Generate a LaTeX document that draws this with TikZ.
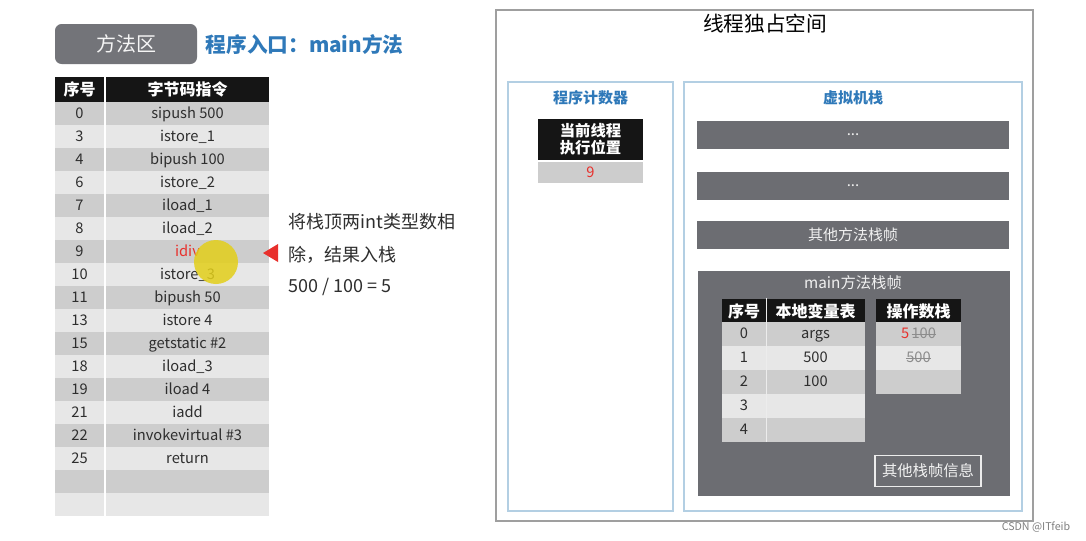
\documentclass[tikz,border=0pt]{standalone}
\usepackage{fontspec}
\setmainfont{Noto Sans CJK SC}
\usepackage{tikz}

\definecolor{fonce}{HTML}{CDCDCD}
\definecolor{clair}{HTML}{E7E7E7}
\definecolor{noir}{HTML}{151515}
\definecolor{gris}{HTML}{6C6D72}
\definecolor{texte}{HTML}{2E2E2E}
\definecolor{bleu}{HTML}{2F79B9}
\definecolor{bleucadre}{HTML}{B3CFE3}
\definecolor{rouge}{HTML}{E8302C}
\definecolor{efface}{HTML}{8C8C8C}
\definecolor{jaune}{HTML}{E3CF1A}

\newcommand\raye[1]{\setbox0\hbox{#1}\rlap{\rule[0.3em]{\wd0}{0.5pt}}\box0}

\begin{document}
\begin{tikzpicture}[x=0.75pt,y=-0.75pt]
\tikzstyle{cadre}=[draw=gray!75,line width=0.9pt]
\tikzset{case/.style={fill=#1,inner sep=0pt,minimum height=17.25pt,text height=9pt,text depth=1.8pt,text=texte,font=\fontsize{11}{13}\selectfont},
case/.default={clair},
col1/.style={case=#1,minimum width=36.75pt},
col1/.default={clair},
col2/.style={case=#1,minimum width=122.25pt},
col2/.default={clair},
entete/.style={fill=noir,inner sep=0pt,minimum height=18.75pt,text=white,font=\fontsize{12}{14}\selectfont\bfseries},
barre/.style={fill=gris,inner sep=0pt,minimum width=234pt,minimum height=21pt,text=white!88!gray,font=\fontsize{11.25}{13}\selectfont},
titre/.style={text=bleu,font=\fontsize{11.25}{13}\selectfont\bfseries}}

\useasboundingbox (0,0) rectangle (1086,540);
\fill[white] (0,0) rectangle (1086,540);

% methode
\node[fill=gris!95!white,rounded corners=5pt,minimum width=106.5pt,minimum height=30pt,text=white!92!gray,font=\fontsize{15}{17}\selectfont] (A) at (126,44){方法区};
\node[anchor=west,text=bleu,font=\fontsize{15.5}{18}\selectfont\bfseries] (A0) at (201,45){程序入口：main方法};

\node[entete,minimum width=36.75pt] (H1) at (79.5,89.5){序号};
\node[entete,minimum width=122.25pt] (H2) at (187.5,89.5){字节码指令};

\node[col1=fonce] (N0) at (79.5,113.5){0};
\node[col2=fonce] (I0) at (187.5,113.5){sipush 500};
\node[col1] (N1) at (79.5,136.5){3};
\node[col2] (I1) at (187.5,136.5){istore\_1};
\node[col1=fonce] (N2) at (79.5,159.5){4};
\node[col2=fonce] (I2) at (187.5,159.5){bipush 100};
\node[col1] (N3) at (79.5,182.5){6};
\node[col2] (I3) at (187.5,182.5){istore\_2};
\node[col1=fonce] (N4) at (79.5,205.5){7};
\node[col2=fonce] (I4) at (187.5,205.5){iload\_1};
\node[col1] (N5) at (79.5,228.5){8};
\node[col2] (I5) at (187.5,228.5){iload\_2};
\node[col1=fonce] (N6) at (79.5,251.5){9};
\node[col2=fonce,text=rouge] (I6) at (187.5,251.5){idiv};
\node[col1] (N7) at (79.5,274.5){10};
\node[col2] (I7) at (187.5,274.5){istore\_3};
\node[col1=fonce] (N8) at (79.5,297.5){11};
\node[col2=fonce] (I8) at (187.5,297.5){bipush 50};
\node[col1] (N9) at (79.5,320.5){13};
\node[col2] (I9) at (187.5,320.5){istore 4};
\node[col1=fonce] (N10) at (79.5,343.5){15};
\node[col2=fonce] (I10) at (187.5,343.5){getstatic \#2};
\node[col1] (N11) at (79.5,366.5){18};
\node[col2] (I11) at (187.5,366.5){iload\_3};
\node[col1=fonce] (N12) at (79.5,389.5){19};
\node[col2=fonce] (I12) at (187.5,389.5){iload 4};
\node[col1] (N13) at (79.5,412.5){21};
\node[col2] (I13) at (187.5,412.5){iadd};
\node[col1=fonce] (N14) at (79.5,435.5){22};
\node[col2=fonce] (I14) at (187.5,435.5){invokevirtual \#3};
\node[col1] (N15) at (79.5,458.5){25};
\node[col2] (I15) at (187.5,458.5){return};
\node[col1=fonce] (N16) at (79.5,481.5){};
\node[col2=fonce] (I16) at (187.5,481.5){};
\node[col1] (N17) at (79.5,504.5){};
\node[col2] (I17) at (187.5,504.5){};

% surlignage du curseur
\fill[jaune,opacity=0.85] (216,262) circle[radius=16.5pt];

% explication
\fill[rouge] (263,253) -- (278,244) -- (278,262) -- cycle;
\node[anchor=west,text=texte,font=\fontsize{13.5}{15}\selectfont] (R1) at (284,222){将栈顶两int类型数相};
\node[anchor=west,text=texte,font=\fontsize{13.5}{15}\selectfont] (R2) at (284,255){除，结果入栈};
\node[anchor=west,text=texte,font=\fontsize{13.5}{15}\selectfont] (R3) at (284,287){500 / 100 = 5};

% espace du thread
\draw[cadre] (496,10) rectangle (1033,521);
\node[font=\fontsize{15.5}{18}\selectfont] (B) at (765,24){线程独占空间};

\draw[bleucadre,line width=0.9pt] (508,82) rectangle (673,511);
\node[titre] (B1) at (590.5,98){程序计数器};
\node[fill=noir,inner sep=0pt,minimum width=78.75pt,minimum height=30.75pt,align=center,text=white,font=\fontsize{11.5}{13}\selectfont\bfseries] (B2) at (590.5,139.5){当前线程\\执行位置};
\node[fill=fonce,inner sep=0pt,minimum width=78.75pt,minimum height=15.75pt,text=rouge,font=\fontsize{11}{13}\selectfont] (B3) at (590.5,172.5){9};

\draw[bleucadre,line width=0.9pt] (684,82) rectangle (1022,511);
\node[titre] (C) at (853,98){虚拟机栈};
\node[barre] (C1) at (853,135){...};
\node[barre] (C2) at (853,186){...};
\node[barre] (C3) at (853,235){其他方法栈帧};

% cadre main
\node[barre,minimum height=168.75pt] (M) at (853.5,383.5){};
\node[text=white!88!gray,font=\fontsize{11.5}{13}\selectfont] (M0) at (853,283){main方法栈帧};

\node[entete,minimum width=33pt] (L1) at (744,311){序号};
\node[entete,minimum width=74.25pt] (L2) at (815.5,311){本地变量表};
\node[case=fonce,minimum width=33pt,minimum height=18pt] (V0) at (744,334){0};
\node[case=fonce,minimum width=74.25pt,minimum height=18pt] (W0) at (815.5,334){args};
\node[case,minimum width=33pt,minimum height=18pt] (V1) at (744,358){1};
\node[case,minimum width=74.25pt,minimum height=18pt] (W1) at (815.5,358){500};
\node[case=fonce,minimum width=33pt,minimum height=18pt] (V2) at (744,382){2};
\node[case=fonce,minimum width=74.25pt,minimum height=18pt] (W2) at (815.5,382){100};
\node[case,minimum width=33pt,minimum height=18pt] (V3) at (744,406){3};
\node[case,minimum width=74.25pt,minimum height=18pt] (W3) at (815.5,406){};
\node[case=fonce,minimum width=33pt,minimum height=18pt] (V4) at (744,430){4};
\node[case=fonce,minimum width=74.25pt,minimum height=18pt] (W4) at (815.5,430){};
\draw[white!85!gray,line width=0.8pt] (L1.north east) -- (V4.south east);

\node[entete,minimum width=63.75pt] (S) at (918.5,311){操作数栈};
\node[case=fonce,minimum width=63.75pt,minimum height=18pt] (S0) at (918.5,334){{\color{rouge}5}\,{\color{efface}\raye{100}}};
\node[case,minimum width=63.75pt,minimum height=18pt,text=efface] (S1) at (918.5,358){\raye{500}};
\node[case=fonce,minimum width=63.75pt,minimum height=18pt] (S2) at (918.5,382){};

\node[draw=white!85!gray,line width=1.1pt,inner sep=0pt,minimum width=79.5pt,minimum height=23.25pt,text=white!90!gray,font=\fontsize{11.5}{13}\selectfont] (O) at (928,471){其他栈帧信息};

\node[text=gray,font=\fontsize{8}{9}\selectfont] (Z) at (1036,527){CSDN @ITfeib};
\end{tikzpicture}
\end{document}
